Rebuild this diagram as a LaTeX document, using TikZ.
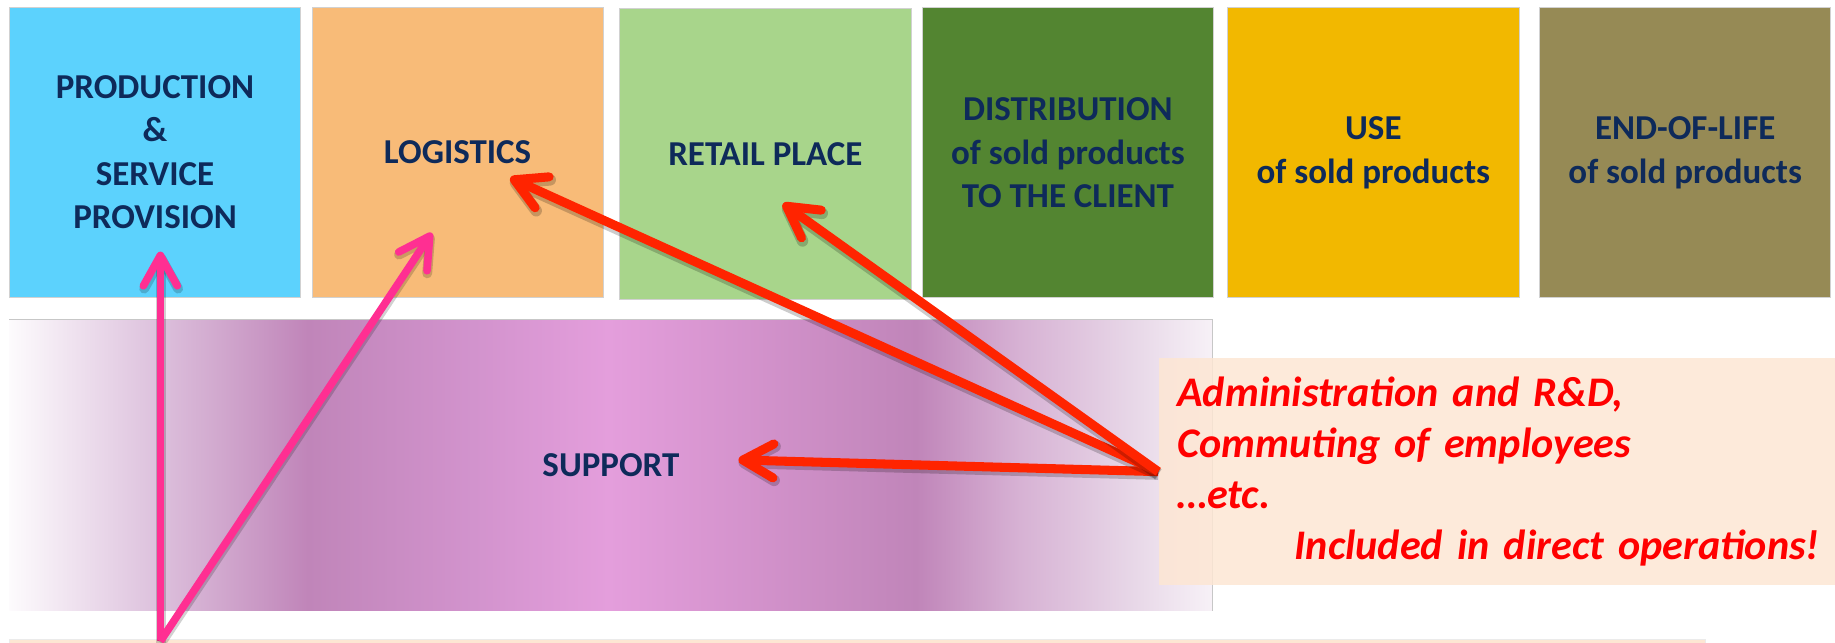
\documentclass[tikz,border=0pt]{standalone}
\usepackage{fontspec}
\setmainfont{Carlito}
\usetikzlibrary{arrows.meta}

\definecolor{navy}{RGB}{14,42,90}
\definecolor{prodblue}{RGB}{92,210,253}
\definecolor{logorange}{RGB}{248,187,120}
\definecolor{retailgreen}{RGB}{168,213,139}
\definecolor{distrgreen}{RGB}{83,133,49}
\definecolor{useamber}{RGB}{242,184,0}
\definecolor{eololive}{RGB}{150,138,85}
\definecolor{notepeach}{RGB}{253,230,211}
\definecolor{arrowred}{RGB}{255,36,0}
\definecolor{arrowpink}{RGB}{255,47,146}
\definecolor{shA}{RGB}{253,251,253}
\definecolor{shB}{RGB}{222,195,222}
\definecolor{shC}{RGB}{192,133,185}
\definecolor{shM}{RGB}{210,147,205}
\definecolor{shD}{RGB}{228,158,220}
\definecolor{shE}{RGB}{215,178,212}
\definecolor{shF}{RGB}{232,216,232}
\definecolor{shG}{RGB}{247,241,247}
\pgfdeclarehorizontalshading{supportshade}{100bp}{color(0bp)=(shA); color(25bp)=(shA); color(30.9bp)=(shB); color(37.4bp)=(shC); color(44.3bp)=(shM); color(49.9bp)=(shD); color(62.7bp)=(shC); color(67bp)=(shE); color(71.8bp)=(shF); color(75bp)=(shG); color(100bp)=(shG)}

\begin{document}
\begin{tikzpicture}[x=0.02cm, y=-0.02cm,
  stage/.style={rectangle, draw=black!18, line width=0.4pt, inner sep=0pt, minimum width=4.98cm, minimum height=4.96cm, text=navy, align=center, font=\fontsize{17}{21}\selectfont\bfseries},
  band/.style={rectangle, inner sep=0pt, shade, shading=supportshade, minimum width=20.56cm, minimum height=4.98cm, text=navy, font=\fontsize{17}{21}\selectfont\bfseries},
  note/.style={rectangle, fill=notepeach, fill opacity=0.85, text opacity=1, inner xsep=0.32cm, inner ysep=0pt, text width=10.98cm, minimum height=3.88cm, align=left, text=red, font=\fontsize{20.5}{24.8}\selectfont\bfseries\itshape},
  strip/.style={rectangle, fill=notepeach, draw=black!8, inner sep=0pt, minimum width=28.98cm, minimum height=0.28cm},
  redarrow/.style={preaction={draw=black, draw opacity=0.2, line width=5.6pt, transform canvas={yshift=-1.2pt}}, draw=arrowred, line width=4.4pt, -{Straight Barb[length=5.2mm, width=5.8mm, round]}},
  pinkarrow/.style={preaction={draw=black, draw opacity=0.18, line width=4.8pt, transform canvas={xshift=0.4pt, yshift=-0.8pt}}, draw=arrowpink, line width=3.7pt, -{Straight Barb[length=5.2mm, width=5.8mm, round]}}]
  \useasboundingbox (0,0) rectangle (1568,549);
  \node[stage, fill=prodblue] (prod) at (132.5, 130) {PRODUCTION\\\&\\SERVICE\\PROVISION};
  \node[stage, fill=logorange] (log) at (391, 130) {LOGISTICS};
  \node[stage, fill=retailgreen] (retail) at (654, 131.5) {RETAIL PLACE};
  \node[stage, fill=distrgreen] (distr) at (912.5, 130.5) {DISTRIBUTION\\of sold products\\TO THE CLIENT};
  \node[stage, fill=useamber] (use) at (1173.5, 130.5) {USE\\of sold products};
  \node[stage, fill=eololive] (eol) at (1440, 130.5) {END-OF-LIFE\\of sold products};
  \node[band] (support) at (522, 397.5) {SUPPORT};
  \draw[black!22, line width=0.5pt] (support.north west) -- (support.north east) -- (support.south east);
  \node[strip] (strip) at (732.5, 553) {};
  \node[note] (note) at (1280.5, 403) {Administration and R\&D,\\Commuting of employees\\…etc.\\\hspace*{\fill}Included in direct operations!};
  \coordinate (base) at (137, 548);
  \coordinate (prodtip) at (137, 215);
  \coordinate (logtip) at (369, 199);
  \coordinate (supporttip) at (631, 393);
  \coordinate (logtip2) at (436, 152);
  \coordinate (retailtip) at (669, 174);
  \draw[pinkarrow] (base) -- (prodtip);
  \draw[pinkarrow] (base) -- (logtip);
  \draw[redarrow] (note.west) -- (supporttip);
  \draw[redarrow] (note.west) -- (logtip2);
  \draw[redarrow] (note.west) -- (retailtip);
\end{tikzpicture}
\end{document}
